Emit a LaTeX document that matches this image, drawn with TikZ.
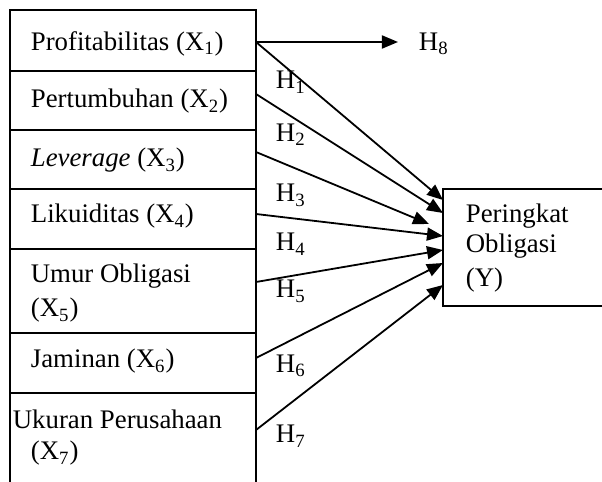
\documentclass[tikz,border=0pt]{standalone}
\usepackage{fontspec}
\setmainfont{Liberation Serif}
\usetikzlibrary{arrows.meta}
\begin{document}
\begin{tikzpicture}[x=0.5pt,y=-0.5pt,
  line width=0.9pt,
  lbl/.style={anchor=base west,inner sep=0pt,font=\fontsize{13.4}{15.5}\selectfont},
  arr/.style={-{Triangle[length=8pt,width=6.5pt]}},
  boxline/.style={line width=0.9pt}]
\useasboundingbox (0,0) rectangle (602,482);
% left column box (open at bottom)
\draw[boxline] (10,482) -- (10,10) -- (256,10) -- (256,482);
\foreach \yy in {71,130,189,249,333,393} \draw[boxline] (10,\yy) -- (256,\yy);
% texts in the left column
\node[lbl] (x1) at (30,50) {Profitabilitas (X\textsubscript{1})};
\node[lbl] (x2) at (30,108) {Pertumbuhan (X\textsubscript{2})};
\node[lbl] (x3) at (30,167) {\textit{Leverage} (X\textsubscript{3})};
\node[lbl] (x4) at (30,223) {Likuiditas (X\textsubscript{4})};
\node[lbl] (x5a) at (30,283) {Umur Obligasi};
\node[lbl] (x5b) at (30,317) {(X\textsubscript{5})};
\node[lbl] (x6) at (30,368) {Jaminan (X\textsubscript{6})};
\node[lbl] (x7a) at (12,429) {Ukuran Perusahaan};
\node[lbl] (x7b) at (30,460) {(X\textsubscript{7})};
% dependent variable box (open at right)
\draw[boxline] (602,189) -- (443,189) -- (443,306) -- (602,306);
\node[lbl] (ya) at (465,223) {Peringkat};
\node[lbl] (yb) at (465,253) {Obligasi};
\node[lbl] (yc) at (465,286) {(Y)};
% connector start and end points
\coordinate (s1) at (256,42);
\coordinate (s2) at (256,94);
\coordinate (s3) at (256,152);
\coordinate (s4) at (256,214);
\coordinate (s5) at (256,282);
\coordinate (s6) at (256,358);
\coordinate (s7) at (256,430);
\coordinate (t1) at (443,200);
\coordinate (t2) at (443,213);
\coordinate (t3) at (429,224);
\coordinate (t4) at (443,236);
\coordinate (t5) at (443,250);
\coordinate (t6) at (443,263);
\coordinate (t8) at (398,42);
\coordinate (t7) at (443,285);
\draw[arr] (s1) -- (t8);
\draw[arr] (s1) -- (t1);
\draw[arr] (s2) -- (t2);
\draw[arr] (s3) -- (t3);
\draw[arr] (s4) -- (t4);
\draw[arr] (s5) -- (t5);
\draw[arr] (s6) -- (t6);
\draw[arr] (s7) -- (t7);
% hypothesis labels
\node[lbl] (h8) at (418,50) {H\textsubscript{8}};
\node[lbl] (h1) at (275,89) {H\textsubscript{1}};
\node[lbl] (h2) at (275,141) {H\textsubscript{2}};
\node[lbl] (h3) at (275,202) {H\textsubscript{3}};
\node[lbl] (h4) at (275,251) {H\textsubscript{4}};
\node[lbl] (h5) at (275,298) {H\textsubscript{5}};
\node[lbl] (h6) at (275,372) {H\textsubscript{6}};
\node[lbl] (h7) at (275,443) {H\textsubscript{7}};
\end{tikzpicture}
\end{document}
